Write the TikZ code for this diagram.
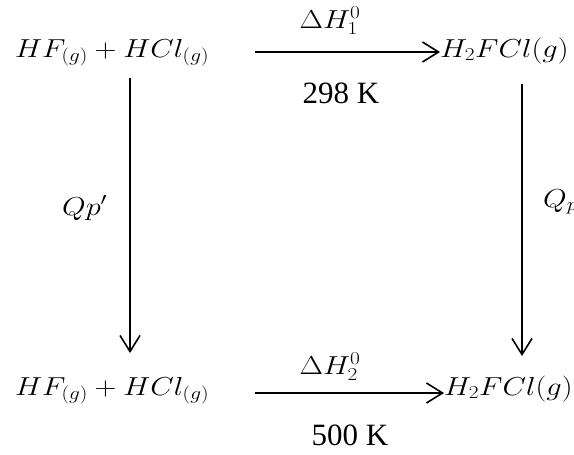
\documentclass[tikz,border=0pt]{standalone}
\usepackage{fix-cm}
\usepackage{fontspec}
\setmainfont{Liberation Serif}
\usetikzlibrary{arrows.meta}
\newcommand{\wm}[1]{\scalebox{1.17}[1]{$#1$}}
\begin{document}
\begin{tikzpicture}[x=1pt,y=1pt,
  chem/.style={inner sep=0pt, font=\fontsize{26}{30}\selectfont},
  temp/.style={inner sep=0pt, font=\fontsize{31}{36}\selectfont},
  arr/.style={line width=1.6pt, -{Straight Barb[length=16pt,width=20pt]}}]
\useasboundingbox (0,0) rectangle (574,-455);
% species
\node[chem, anchor=base west] (tl) at (15,-57) {\wm{HF_{(g)}+HCl_{(g)}}};
\node[chem, anchor=base west] (tr) at (440,-57) {\wm{H_2FCl(g)}};
\node[chem, anchor=base west] (bl) at (15,-395) {\wm{HF_{(g)}+HCl_{(g)}}};
\node[chem, anchor=base west] (br) at (444,-395) {\wm{H_2FCl(g)}};
% labels
\node[chem] (dh1) at (330,-21) {\wm{\Delta H_1^0}};
\node[chem] (dh2) at (330,-367) {\wm{\Delta H_2^0}};
\node[temp] (t1) at (341,-93) {298 K};
\node[temp] (t2) at (350,-435) {500 K};
\node[chem, anchor=base west] (qpl) at (62,-215) {\wm{Qp'}};
\node[chem, anchor=base west] (qpr) at (543,-207) {\wm{Q_p}};
% connector ends
\coordinate (h1s) at (255,-52);
\coordinate (h2s) at (255,-393);
\coordinate (v1s) at (130,-78);
\coordinate (v1e) at (130,-353);
\coordinate (v2s) at (522,-84);
\coordinate (v2e) at (522,-356);
% connectors
\draw[arr] (h1s) -- (tr.west |- h1s);
\draw[arr] (h2s) -- (br.west |- h2s);
\draw[arr] (v1s) -- (v1e);
\draw[arr] (v2s) -- (v2e);
\end{tikzpicture}
\end{document}
